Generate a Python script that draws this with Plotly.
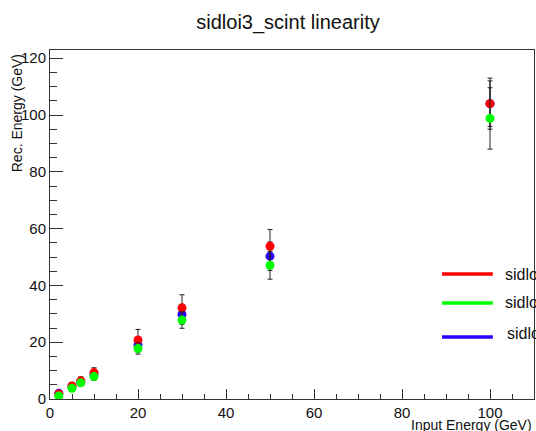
import plotly.graph_objects as go

# Data
energies = [2, 5, 7, 10, 20, 30, 50, 100]
series_names = ["sidloi3_scint", "sidloi3_scint", "sidloi3_scint"]

red_y = [1.8, 4.6, 6.4, 9.3, 20.8, 32.1, 53.8, 104.0]
red_err = [0.3, 0.6, 1.4, 1.7, 3.7, 4.6, 5.9, 9.0]

blue_y = [2.0, 4.5, 6.0, 8.5, 19.0, 29.8, 50.3, 104.0]
blue_err = [0.3, 0.5, 1.0, 1.5, 2.5, 3.5, 5.0, 8.0]

green_y = [1.1, 3.8, 5.7, 7.9, 17.8, 27.8, 47.1, 98.8]
green_err = [0.3, 0.5, 1.1, 1.3, 2.0, 2.9, 4.9, 10.8]

RED = "#ff0000"
GREEN = "#00ff00"
BLUE = "#2a00ff"
FONT = "Liberation Sans, Arial, sans-serif"

fig = go.Figure()

def add_series(y, err, color):
    fig.add_trace(go.Scatter(
        x=energies, y=y, mode="markers",
        marker=dict(color=color, size=9, line=dict(width=0)),
        error_y=dict(type="data", array=err, visible=True,
                     color="#222222", thickness=1, width=2.5),
        showlegend=False, hoverinfo="x+y",
    ))

add_series(blue_y, blue_err, BLUE)
add_series(red_y, red_err, RED)
add_series(green_y, green_err, GREEN)

# Legend-like entries (ROOT TLegend, clipped at right edge)
legend_items = [
    (RED, 0.358, 0.356, 0.936),
    (GREEN, 0.275, 0.275, 0.936),
    (BLUE, 0.178, 0.186, 0.941),
]
for (color, ly, ty, tx), name in zip(legend_items, series_names):
    fig.add_shape(type="line", xref="paper", yref="paper",
                  x0=0.81, x1=0.915, y0=ly, y1=ly,
                  line=dict(color=color, width=3.5))
    fig.add_annotation(xref="paper", yref="paper", x=tx, y=ty,
                       text=name, showarrow=False, xanchor="left",
                       yanchor="middle", font=dict(size=16, color="#111111", family=FONT))

# Axis titles (ROOT style, right/top aligned)
fig.add_annotation(xref="paper", yref="paper", x=1.0, y=-0.075,
                   text="Input Energy (GeV)", showarrow=False,
                   xanchor="right", yanchor="middle",
                   font=dict(size=14, color="#111111", family=FONT))
fig.add_annotation(xref="paper", yref="paper", x=-0.068, y=0.819,
                   text="Rec. Energy (GeV)", showarrow=False, textangle=-90,
                   xanchor="center", yanchor="middle",
                   font=dict(size=14, color="#111111", family=FONT))

axis_common = dict(
    showline=True, linecolor="#333333", linewidth=1, mirror=True,
    showgrid=False, zeroline=False, ticks="inside", tickcolor="#333333",
    tickfont=dict(size=15, color="#111111", family=FONT),
)

fig.update_xaxes(range=[0, 110], dtick=20, tick0=0, ticklen=10,
                 minor=dict(dtick=5, ticks="inside", ticklen=5, tickcolor="#333333"),
                 **axis_common)
fig.update_yaxes(range=[0, 122.9], dtick=20, tick0=0, ticklen=13,
                 minor=dict(dtick=5, ticks="inside", ticklen=7, tickcolor="#333333"),
                 **axis_common)

fig.update_layout(
    width=536, height=431,
    margin=dict(l=50, r=2, t=50, b=32),
    paper_bgcolor="white", plot_bgcolor="white",
    title=dict(text="sidloi3_scint linearity", x=288/536, xanchor="center",
               y=1 - 22/431, yanchor="middle",
               font=dict(size=20, color="#111111", family=FONT)),
    font=dict(family=FONT),
)

fig.write_html(
    "out.html",
    config={"displayModeBar": False},
    post_script="document.body.style.margin='0';document.body.style.padding='0';"
                "document.body.style.overflow='hidden';"
                "document.documentElement.style.overflow='hidden';",
)
